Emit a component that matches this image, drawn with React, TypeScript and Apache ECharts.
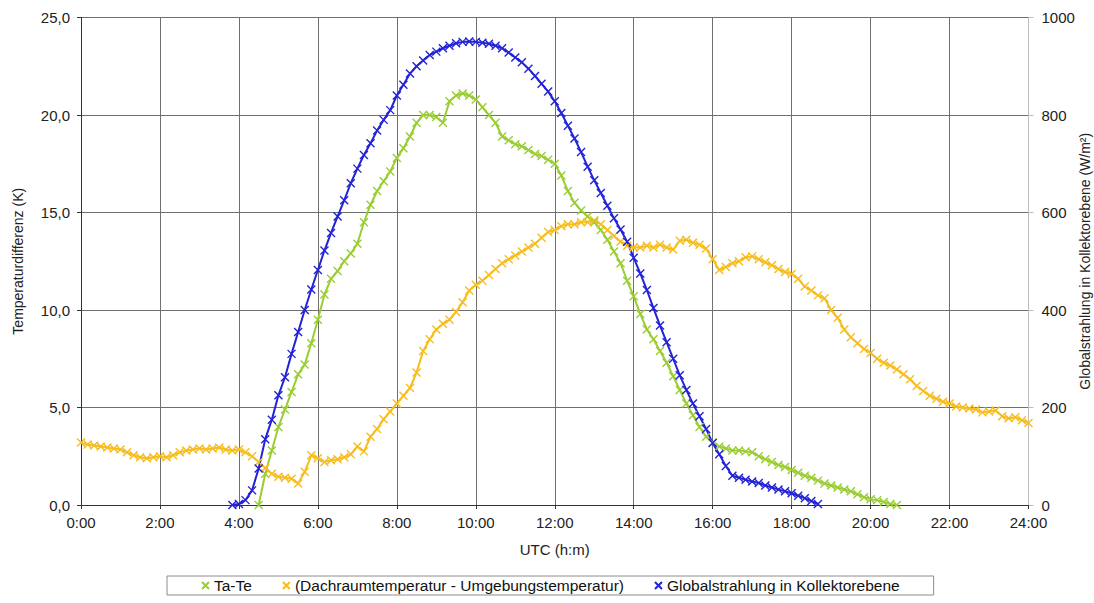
import React, { useEffect, useRef } from "react";
import * as echarts from "echarts";

// Sampling grid: one reading every 10 minutes, times in minutes after 0:00 UTC
const STEP_MIN = 10;
const TA_TE_START = 270; // 4:30
const DACH_START = 0; // 0:00
const GLOBAL_START = 230; // 3:50

// Ta-Te (K), 4:30 .. 20:40
const taTe = [
  0, 1.6, 2.8, 4.0, 4.9, 5.8, 6.7, 7.2, 8.3, 9.5, 10.8, 11.6, 12.0, 12.5, 12.9, 13.4,
  14.5, 15.4, 16.1, 16.6, 17.1, 17.8, 18.3, 18.9, 19.6, 20.0, 20.0, 19.9, 19.6, 20.7,
  21.0, 21.1, 21.0, 20.8, 20.4, 20.0, 19.6, 18.9, 18.7, 18.5, 18.4, 18.2, 18.0, 17.9,
  17.7, 17.5, 16.9, 16.1, 15.5, 15.1, 14.8, 14.5, 14.1, 13.6, 13.0, 12.4, 11.5, 10.7,
  9.8, 9.0, 8.5, 7.9, 7.3, 6.6, 5.9, 5.2, 4.6, 4.0, 3.5, 3.2, 3.0, 2.9, 2.8, 2.8, 2.75,
  2.7, 2.5, 2.35, 2.2, 2.05, 1.95, 1.8, 1.65, 1.5, 1.4, 1.25, 1.1, 1.0, 0.9, 0.8, 0.7,
  0.55, 0.4, 0.3, 0.25, 0.15, 0.05, 0.0,
];

// Dachraumtemperatur - Umgebungstemperatur (K), 0:00 .. 24:00
const dachraum = [
  3.2, 3.1, 3.05, 3.0, 2.95, 2.9, 2.85, 2.7, 2.55, 2.45, 2.4, 2.45, 2.5, 2.45, 2.55, 2.7,
  2.8, 2.85, 2.9, 2.85, 2.9, 2.95, 2.85, 2.8, 2.85, 2.7, 2.5, 2.2, 1.9, 1.6, 1.45, 1.4,
  1.35, 1.1, 1.7, 2.55, 2.4, 2.2, 2.3, 2.35, 2.45, 2.6, 3.0, 2.75, 3.5, 3.9, 4.4, 4.8,
  5.2, 5.6, 6.0, 6.8, 7.9, 8.5, 9.0, 9.3, 9.5, 9.9, 10.4, 11.0, 11.3, 11.5, 11.8, 12.1,
  12.4, 12.6, 12.8, 13.0, 13.2, 13.4, 13.7, 14.0, 14.1, 14.3, 14.4, 14.4, 14.5, 14.5,
  14.6, 14.4, 14.1, 13.8, 13.5, 13.3, 13.2, 13.2, 13.3, 13.2, 13.35, 13.2, 13.1, 13.55,
  13.6, 13.45, 13.35, 13.15, 12.6, 12.05, 12.2, 12.4, 12.5, 12.7, 12.75, 12.6, 12.45,
  12.3, 12.1, 11.95, 11.85, 11.6, 11.2, 11.0, 10.75, 10.6, 10.0, 9.6, 9.0, 8.6, 8.3, 8.0,
  7.8, 7.5, 7.3, 7.15, 6.95, 6.7, 6.45, 6.1, 5.85, 5.6, 5.45, 5.3, 5.2, 5.05, 5.0, 4.95,
  4.9, 4.75, 4.8, 4.85, 4.55, 4.45, 4.5, 4.35, 4.2,
];

// Globalstrahlung in Kollektorebene (W/m²), 3:50 .. 18:40
const globalstrahlung = [
  0, 2, 10, 30, 75, 135, 175, 225, 262, 310, 355, 400, 442, 482, 522, 558, 592, 625, 660,
  690, 718, 742, 768, 790, 810, 840, 862, 885, 900, 912, 923, 930, 937, 942, 947, 950, 951,
  950, 948, 946, 942, 937, 928, 918, 908, 895, 880, 864, 848, 828, 804, 778, 752, 724, 694,
  666, 640, 614, 588, 565, 540, 507, 475, 441, 404, 368, 334, 300, 266, 236, 208, 182, 156,
  127, 104, 80, 60, 56, 52, 48, 45, 40, 36, 32, 28, 24, 19, 14, 8, 2,
];

const SERIES_NAMES = [
  "Ta-Te",
  "(Dachraumtemperatur - Umgebungstemperatur)",
  "Globalstrahlung in Kollektorebene",
];

const GREEN = "#9ACD32";
const ORANGE = "#F7BD1E";
const BLUE = "#2323D6";

const CROSS = "path://M0,0L10,10M10,0L0,10";
const FONT = "Liberation Sans, Arial, sans-serif";

const toPairs = (values: number[], start: number) =>
  values.map((v, i) => [start + i * STEP_MIN, v]);

const crossSeries = (
  name: string,
  color: string,
  data: number[][],
  yAxisIndex: number
) => ({
  name,
  type: "line",
  yAxisIndex,
  data,
  symbol: CROSS,
  symbolSize: 8,
  showAllSymbol: true,
  lineStyle: { color, width: 2 },
  itemStyle: { color, borderColor: color, borderWidth: 1.4 },
  emphasis: { disabled: true },
});

export default function App() {
  const ref = useRef<HTMLDivElement>(null);

  useEffect(() => {
    if (!ref.current) return;
    const chart = echarts.init(ref.current, undefined, { renderer: "svg" });
    const gridColor = "#6f6f6f";
    const labelStyle = { color: "#222", fontFamily: FONT, fontSize: 15 };

    chart.setOption({
      animation: false,
      backgroundColor: "#ffffff",
      textStyle: { fontFamily: FONT },
      grid: {
        left: 81,
        right: 65.5,
        top: 17.5,
        bottom: 98,
        containLabel: false,
        outerBoundsMode: "none",
      },
      xAxis: {
        type: "value",
        min: 0,
        max: 1440,
        interval: 120,
        name: "UTC (h:m)",
        nameLocation: "middle",
        nameGap: 37,
        nameMoveOverlap: false,
        nameTextStyle: labelStyle,
        axisLine: { lineStyle: { color: "#333", width: 1 } },
        axisTick: { show: true, length: 4, lineStyle: { color: "#333" } },
        axisLabel: {
          ...labelStyle,
          margin: 10,
          formatter: (v: number) => `${v / 60}:00`,
        },
        splitLine: { show: true, lineStyle: { color: gridColor, width: 1 } },
      },
      yAxis: [
        {
          type: "value",
          min: 0,
          max: 25,
          interval: 5,
          name: "Temperaturdifferenz (K)",
          nameLocation: "middle",
          nameRotate: 90,
          nameGap: 56,
          nameMoveOverlap: false,
          nameTextStyle: { ...labelStyle, fontSize: 14 },
          axisLine: { show: true, lineStyle: { color: "#333", width: 1 } },
          axisTick: { show: true, length: 4, lineStyle: { color: "#333" } },
          axisLabel: {
            ...labelStyle,
            margin: 11,
            formatter: (v: number) => v.toFixed(1).replace(".", ","),
          },
          splitLine: { show: true, lineStyle: { color: gridColor, width: 1 } },
        },
        {
          type: "value",
          min: 0,
          max: 1000,
          interval: 200,
          position: "right",
          name: "Globalstrahlung in Kollektorebene (W/m²)",
          nameLocation: "middle",
          nameRotate: 90,
          nameGap: 49,
          nameMoveOverlap: false,
          nameTextStyle: { ...labelStyle, fontSize: 14 },
          axisLine: { show: true, lineStyle: { color: "#bdbdbd", width: 1 } },
          axisTick: { show: true, length: 5, lineStyle: { color: "#bdbdbd" } },
          axisLabel: { ...labelStyle, margin: 13, formatter: (v: number) => String(v) },
          splitLine: { show: false },
        },
      ],
      legend: {
        left: 167,
        top: 576,
        orient: "horizontal",
        data: SERIES_NAMES,
        icon: CROSS,
        itemWidth: 7,
        itemHeight: 7,
        itemGap: 30,
        padding: [1.5, 34, 1.5, 34],
        borderColor: "#8c8c8c",
        borderWidth: 1,
        textStyle: { ...labelStyle, fontSize: 15.5, color: "#111" },
        selectedMode: false,
      },
      series: [
        crossSeries(SERIES_NAMES[0], GREEN, toPairs(taTe, TA_TE_START), 0),
        crossSeries(SERIES_NAMES[1], ORANGE, toPairs(dachraum, DACH_START), 0),
        crossSeries(SERIES_NAMES[2], BLUE, toPairs(globalstrahlung, GLOBAL_START), 1),
      ],
    });

    return () => chart.dispose();
  }, []);

  return (
    <div
      ref={ref}
      style={{ position: "absolute", left: 0, top: 0, width: 1094, height: 603, background: "#fff" }}
    />
  );
}
